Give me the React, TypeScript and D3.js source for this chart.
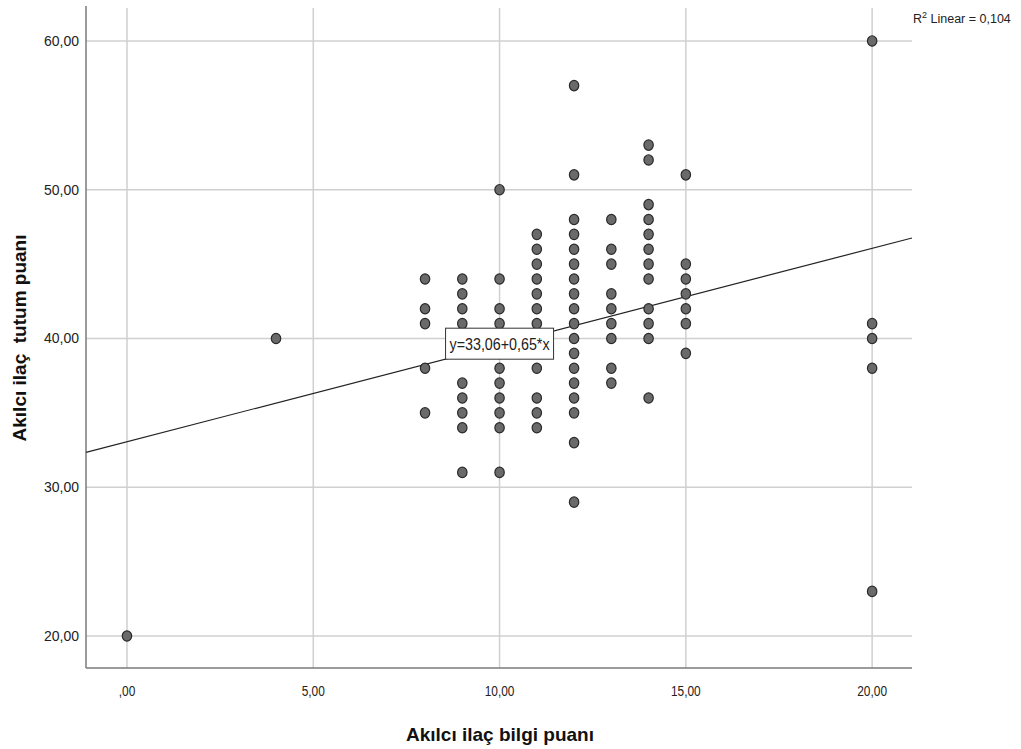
import React, { useEffect, useRef } from 'react';
import * as d3 from 'd3';

// x = Akılcı ilaç bilgi puanı, y = Akılcı ilaç tutum puanı
const xValues = [0, 4, 8, 9, 10, 11, 12, 13, 14, 15, 20];
const yByX: number[][] = [
  [20],
  [40],
  [44, 42, 41, 38, 35],
  [44, 43, 42, 41, 37, 36, 35, 34, 31],
  [50, 44, 42, 41, 40, 39, 38, 37, 36, 35, 34, 31],
  [47, 46, 45, 44, 43, 42, 41, 40, 38, 36, 35, 34],
  [57, 51, 48, 47, 46, 45, 44, 43, 42, 41, 40, 39, 38, 37, 36, 35, 33, 29],
  [48, 46, 45, 43, 42, 41, 40, 38, 37],
  [53, 52, 49, 48, 47, 46, 45, 44, 42, 41, 40, 36],
  [51, 45, 44, 43, 42, 41, 39],
  [60, 41, 40, 38, 23],
];
const xTicks = [0, 5, 10, 15, 20];
const yTicks = [20, 30, 40, 50, 60];
const intercept = 33.06;
const slope = 0.65;
const equationLabel = 'y=33,06+0,65*x';
const r2Label = '0,104';

const fmt = (v: number) => (v === 0 ? ',00' : v.toFixed(2).replace('.', ','));

const App = () => {
  const svgRef = useRef<SVGSVGElement>(null);

  useEffect(() => {
    const width = 1021;
    const height = 749;
    const left = 86, right = 912, top = 6, bottom = 668;

    const svg = d3.select(svgRef.current);
    svg.selectAll('*').remove();
    svg.attr('width', width).attr('height', height);

    const x = d3.scaleLinear().domain([-1.1, 21.07]).range([left, right]);
    const y = d3.scaleLinear().domain([17.85, 62.35]).range([bottom, top]);

    const font = 'Arial, "Liberation Sans", sans-serif';

    // grid
    svg.append('g')
      .selectAll('line')
      .data(yTicks)
      .enter()
      .append('line')
      .attr('x1', left).attr('x2', right)
      .attr('y1', d => y(d)).attr('y2', d => y(d))
      .attr('stroke', '#d0d0d0').attr('stroke-width', 1.5);

    svg.append('g')
      .selectAll('line')
      .data(xTicks)
      .enter()
      .append('line')
      .attr('x1', d => x(d)).attr('x2', d => x(d))
      .attr('y1', top + 2).attr('y2', bottom)
      .attr('stroke', '#d0d0d0').attr('stroke-width', 1.5);

    // axes
    svg.append('line')
      .attr('x1', left).attr('x2', left).attr('y1', top).attr('y2', bottom)
      .attr('stroke', '#7a7a7a').attr('stroke-width', 1.5);
    svg.append('line')
      .attr('x1', left).attr('x2', right).attr('y1', bottom).attr('y2', bottom)
      .attr('stroke', '#7a7a7a').attr('stroke-width', 1.5);

    // tick labels
    svg.append('g')
      .selectAll('text')
      .data(yTicks)
      .enter()
      .append('text')
      .attr('x', 79).attr('y', d => y(d) + 5)
      .attr('text-anchor', 'end')
      .attr('font-family', font).attr('font-size', 14).attr('fill', '#222')
      .text(d => fmt(d));

    svg.append('g')
      .selectAll('text')
      .data(xTicks)
      .enter()
      .append('text')
      .attr('transform', d => `translate(${x(d)},${bottom + 28}) scale(0.85,1)`)
      .attr('text-anchor', 'middle')
      .attr('font-family', font).attr('font-size', 14).attr('fill', '#222')
      .text(d => fmt(d));

    // fit line
    const [x0, x1] = x.domain();
    svg.append('line')
      .attr('x1', x(x0)).attr('y1', y(intercept + slope * x0))
      .attr('x2', x(x1)).attr('y2', y(intercept + slope * x1))
      .attr('stroke', '#222').attr('stroke-width', 1.2);

    // points
    const points = xValues.flatMap((xv, i) => yByX[i].map(yv => ({ xv, yv })));
    svg.append('g')
      .selectAll('ellipse')
      .data(points)
      .enter()
      .append('ellipse')
      .attr('cx', d => x(d.xv)).attr('cy', d => y(d.yv))
      .attr('rx', 4.7).attr('ry', 5.2)
      .attr('fill', '#6a6a6a').attr('stroke', '#2a2a2a').attr('stroke-width', 1.2);

    // equation box
    const bx = x(10), by = y(39.65);
    const eq = svg.append('g').attr('transform', `translate(${bx},${by})`);
    eq.append('rect')
      .attr('x', -54).attr('y', -15.5).attr('width', 108).attr('height', 31)
      .attr('fill', 'white').attr('stroke', '#333').attr('stroke-width', 1);
    eq.append('text')
      .attr('x', -50).attr('y', 6)
      .attr('textLength', 100).attr('lengthAdjust', 'spacingAndGlyphs')
      .attr('font-family', font).attr('font-size', 16).attr('fill', '#222')
      .text(equationLabel);

    // R² label
    const r2 = svg.append('text')
      .attr('x', 913).attr('y', 23)
      .attr('font-family', font).attr('font-size', 12.5).attr('fill', '#222');
    r2.append('tspan').text('R');
    r2.append('tspan').attr('dy', -5).attr('font-size', 9).text('2');
    r2.append('tspan').attr('dy', 5).text(` Linear = ${r2Label}`);

    // axis titles
    svg.append('text')
      .attr('x', 406).attr('y', 741)
      .attr('textLength', 188).attr('lengthAdjust', 'spacingAndGlyphs')
      .attr('font-family', font).attr('font-size', 19).attr('font-weight', 'bold').attr('fill', '#111')
      .text('Akılcı ilaç bilgi puanı');

    svg.append('text')
      .attr('transform', `translate(26,338) rotate(-90)`)
      .attr('text-anchor', 'middle')
      .attr('font-family', font).attr('font-size', 19).attr('font-weight', 'bold').attr('fill', '#111')
      .style('white-space', 'pre')
      .text('Akılcı ilaç  tutum puanı');
  }, []);

  return (
    <svg ref={svgRef} style={{ position: 'absolute', left: 0, top: 0, background: 'white' }} />
  );
};

export default App;
